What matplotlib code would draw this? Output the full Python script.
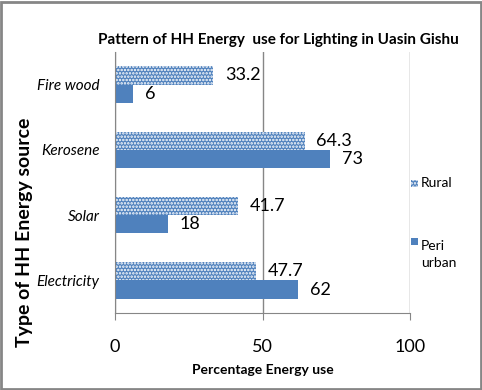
import matplotlib
matplotlib.use("Agg")
import matplotlib.pyplot as plt
from matplotlib.patches import Rectangle
import numpy as np

plt.rcParams['font.family'] = ['Lato', 'DejaVu Sans']
plt.rcParams['hatch.linewidth'] = 1.2

categories = ['Electricity', 'Solar', 'Kerosene', 'Fire wood']
rural = [47.7, 41.7, 64.3, 33.2]
peri_urban = [62, 18, 73, 6]
series_names = ['Rural', 'Peri\nurban']
xticks = [0, 50, 100]

blue = '#4F81BD'
fig = plt.figure(figsize=(4.82, 3.90), dpi=100)
ax = fig.add_axes([115/482, 1-313/390, (410-115)/482, (313-52)/390])

y = np.arange(len(categories))
h = 0.28
HATCH = '.....'
br = ax.barh(y + h/2, rural, height=h, color=blue, edgecolor='white', linewidth=0, hatch=HATCH)
bp = ax.barh(y - h/2, peri_urban, height=h, color=blue, linewidth=0)

for rect, v in zip(br, rural):
    ax.text(rect.get_width() + 4, rect.get_y() + rect.get_height()/2, f'{v:g}',
            va='center', ha='left', fontsize=13)
for rect, v in zip(bp, peri_urban):
    ax.text(rect.get_width() + 4, rect.get_y() + rect.get_height()/2, f'{v:g}',
            va='center', ha='left', fontsize=13)

ax.set_xlim(0, 100)
ax.set_ylim(-0.5, len(categories) - 0.5)
ax.set_xticks(xticks)
ax.set_xticklabels([str(t) for t in xticks], fontsize=13)
ax.set_yticks(y)
ax.set_yticklabels(categories, fontsize=11, style='italic')
ax.tick_params(axis='y', length=0, pad=11)
ax.tick_params(axis='x', length=5, color='#868686', pad=14)
ax.xaxis.grid(True, color='#868686', linewidth=1)
ax.set_axisbelow(True)
for s in ['top', 'right']:
    ax.spines[s].set_visible(False)
ax.spines['left'].set_color('#868686')
ax.spines['bottom'].set_color('#868686')

ax.set_xlabel('Percentage Energy use', fontsize=10, fontweight='bold', labelpad=6)
fig.text(25/482, 1-232/390, 'Type of HH Energy source', rotation=90,
         ha='center', va='center', fontsize=14, fontweight='bold')
fig.text(278/482, 1-40/390, 'Pattern of HH Energy  use for Lighting in Uasin Gishu',
         ha='center', va='center', fontsize=11, fontweight='bold')

# legend
fig.patches.append(Rectangle((411/482, 1-187/390), 7/482, 7/390, transform=fig.transFigure,
                             facecolor=blue, edgecolor='white', linewidth=0, hatch=HATCH))
fig.text(421/482, 1-183/390, series_names[0], fontsize=10, va='center', ha='left')
fig.patches.append(Rectangle((411/482, 1-245/390), 7/482, 7/390, transform=fig.transFigure,
                             facecolor=blue, linewidth=0))
fig.text(421/482, 1-240/390, series_names[1], fontsize=10, va='top', ha='left',
         linespacing=1.5)

fig.patches.append(Rectangle((0.002, 0.003), 0.995, 0.993, transform=fig.transFigure,
                             fill=False, edgecolor='#868686', linewidth=2))
fig.savefig('out.png', dpi=100)
